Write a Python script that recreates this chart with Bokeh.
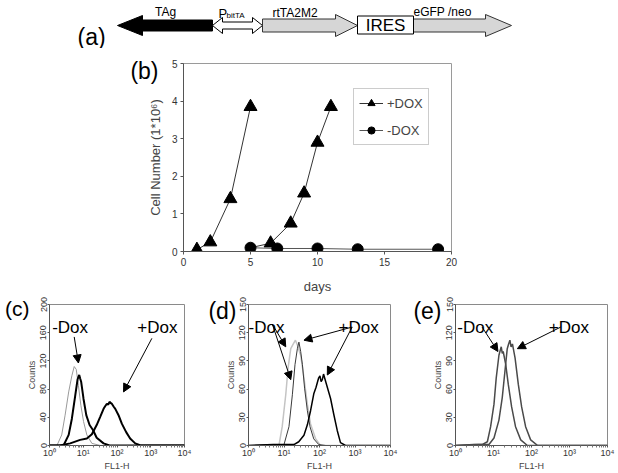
from bokeh.plotting import figure
from bokeh.models import (Range1d, Label, Arrow, NormalHead, FixedTicker, Legend, LegendItem,
                          LinearAxis)
from bokeh.layouts import column, row
from bokeh.embed import file_html
from bokeh.resources import INLINE

FONT = "Liberation Sans"

# ---------------- data ----------------
# (a) construct elements: (x_start, x_end) in diagram units
tag_seg = (212, 117)
pbit_seg = (212, 262)
rtta_seg = (262, 357)
ires_seg = (357, 413)
egfp_seg = (413, 511)

# (b) growth curves
plus_days_1 = [1, 2, 3.5, 5]
plus_cells_1 = [0.05, 0.25, 1.4, 3.85]
plus_days_2 = [5, 6.5, 8, 9, 10, 11]
plus_cells_2 = [0.1, 0.22, 0.75, 1.55, 2.9, 3.85]
minus_days = [5, 7, 10, 13, 19]
minus_cells = [0.1, 0.08, 0.08, 0.06, 0.06]

# (c) histograms
c_gray_x = [1, 1.66, 2.3, 2.9, 3.7, 4.6, 5.4, 6.2, 7.2, 8.5, 10.2, 12.8, 18, 32, 10000]
c_gray_y = [0, 0, 15, 43, 76, 99, 112, 108, 85, 57, 34, 15, 3, 0, 0]
c_minus_x = [1, 2.6, 3.7, 4.6, 5.8, 6.8, 7.3, 7.6, 8.1, 8.7, 10.2, 12.3, 15.4, 19.4, 25, 40, 60, 10000]
c_minus_y = [0, 0, 15, 38, 71, 94, 98, 100, 95, 90, 66, 43, 29, 22, 11, 3, 0, 0]
c_plus_x = [1, 2, 4.1, 8.1, 12.8, 18, 25, 32, 40, 45, 50, 55, 60, 66, 71, 80, 89, 111, 139, 187, 245, 347, 480, 1000, 10000]
c_plus_y = [0, 0, 3, 8, 10, 16, 29, 41, 52, 56, 59, 58, 62, 60, 59, 55, 52, 43, 31, 19, 10, 3, 0.5, 0, 0]

# (d) histograms
d_light_x = [1, 7.2, 8.9, 11.2, 13, 15.5, 18.3, 21, 23.8, 29.5, 36.5, 45.5, 56, 78, 107, 10000]
d_light_y = [0, 0, 20, 54, 82, 103, 108, 112, 107, 96, 72, 44, 23, 7, 0, 0]
d_dark_x = [1, 5, 10, 13.8, 17.2, 20.4, 23.8, 26.3, 29.5, 33, 38, 45.5, 54, 69, 95, 150, 10000]
d_dark_y = [0, 1, 1, 20, 54, 86, 103, 110, 100, 86, 61, 37, 20, 7, 1, 0, 0]
d_plus_x = [1, 5, 19, 26, 36.5, 45.5, 56, 69, 80, 87, 95, 103, 111, 120, 130, 139, 166, 205, 253, 316, 390, 540, 10000]
d_plus_y = [0, 1, 1, 4, 11, 22, 37, 55, 62, 67, 72, 74, 68, 70, 76, 72, 62, 50, 33, 16, 3, 0, 0]

# (e) histograms
e_minus_x = [1, 3, 5, 6.9, 8.4, 10.3, 11.8, 13.9, 15, 16, 17, 18, 21, 24.5, 30, 38, 52, 78, 10000]
e_minus_y = [0, 1, 1, 4, 20, 44, 72, 96, 101, 105, 98, 100, 86, 65, 41, 20, 6, 0, 0]
e_plus_x = [1, 4, 7.6, 10.3, 13.9, 17, 20, 23, 25, 27, 29, 31.5, 37, 45, 55, 70, 95, 145, 10000]
e_plus_y = [0, 1, 1, 8, 27, 51, 79, 103, 108, 112, 105, 108, 93, 65, 41, 20, 6, 0, 0]

log_ticks = [1, 10, 100, 1000, 10000]
log_labels = ["10\u2070", "10\u00b9", "10\u00b2", "10\u00b3", "10\u2074"]


def lbl(p, x, y, text, size, align="left", baseline="alphabetic"):
    p.add_layout(Label(x=x, y=y, text=text, text_font=FONT, text_font_size=size,
                       text_align=align, text_baseline=baseline, text_color="black"))


def panel_letter(p, yval, text, standoff, size="23px"):
    """Panel letter drawn as the single tick label of an extra, invisible left axis."""
    ax = LinearAxis(ticker=FixedTicker(ticks=[yval]),
                    major_label_overrides={yval: text},
                    axis_line_color=None, major_tick_line_color=None,
                    minor_tick_line_color=None, major_tick_out=0, major_tick_in=0,
                    major_label_standoff=standoff, major_label_orientation="horizontal",
                    major_label_text_font=FONT, major_label_text_font_size=size,
                    major_label_text_color="black")
    p.add_layout(ax, "left")


# ---------------- (a) ----------------
pa = figure(width=618, height=48, x_range=Range1d(0, 618), y_range=Range1d(48, 0),
            output_backend="svg", toolbar_location=None, min_border=0,
            x_axis_location=None, y_axis_location=None, frame_align=False)
pa.grid.visible = False
pa.outline_line_color = None


def arrow_poly(x0, x1, yc, sh, hh, hl):
    s = 1 if x1 > x0 else -1
    xb = x1 - s * hl
    xs = [x0, xb, xb, x1, xb, xb, x0]
    ys = [yc - sh / 2, yc - sh / 2, yc - hh / 2, yc, yc + hh / 2, yc + sh / 2, yc + sh / 2]
    return xs, ys


yc = 25
tx, ty = arrow_poly(tag_seg[0], tag_seg[1], yc, 11, 20, 25)
pa.patch(tx, ty, fill_color="black", line_color="black")
a0, a1 = pbit_seg
pxs = [a0, a0 + 10, a0 + 10, a1 - 10, a1 - 10, a1, a1 - 10, a1 - 10, a0 + 10, a0 + 10]
pys = [yc, yc - 8, yc - 3.5, yc - 3.5, yc - 8, yc, yc + 8, yc + 3.5, yc + 3.5, yc + 8]
pa.patch(pxs, pys, fill_color="white", line_color="black", line_width=1)
rx, ry = arrow_poly(rtta_seg[0], rtta_seg[1], yc, 13, 22, 22)
pa.patch(rx, ry, fill_color="#d6d6d6", line_color="#333333")
ex, ey = arrow_poly(egfp_seg[0], egfp_seg[1], yc, 13, 22, 26)
pa.patch(ex, ey, fill_color="#d6d6d6", line_color="#333333")
pa.quad(left=[ires_seg[0]], right=[ires_seg[1]], top=[15.5], bottom=[33.5],
        fill_color="white", line_color="black")
lbl(pa, 77, 36, "(a)", "23px")
lbl(pa, 165, 11, "TAg", "12px", align="center")
lbl(pa, 218, 13, "P", "13px")
lbl(pa, 226, 15, "bitTA", "8px")
lbl(pa, 272, 12, "rtTA2M2", "12px")
lbl(pa, 385, 25, "IRES", "17px", align="center", baseline="middle")
lbl(pa, 413, 11, "eGFP /neo", "12px")

# ---------------- (b) ----------------
pb = figure(width=618, height=248, x_range=Range1d(0, 20), y_range=Range1d(0, 5),
            output_backend="svg", toolbar_location=None, frame_align=False,
            min_border_left=183, min_border_right=167, min_border_top=15, min_border_bottom=44)
pb.grid.visible = False
pb.outline_line_color = "#9a9a9a"
pb.xaxis.ticker = FixedTicker(ticks=[0, 5, 10, 15, 20])
pb.yaxis.ticker = FixedTicker(ticks=[0, 1, 2, 3, 4, 5])
for ax in [pb.xaxis, pb.yaxis]:
    ax.axis_line_color = "#555555"
    ax.major_tick_line_color = "#555555"
    ax.major_tick_out = 3
    ax.major_tick_in = 0
    ax.minor_tick_line_color = None
    ax.major_label_text_font = FONT
    ax.major_label_text_font_size = "10px"
    ax.major_label_text_color = "#333333"
    ax.axis_label_text_font = FONT
    ax.axis_label_text_font_style = "normal"
    ax.axis_label_text_font_size = "13px"
    ax.major_label_standoff = 3
pb.xaxis.axis_label = "days"
pb.yaxis.axis_label = "Cell Number (1*10\u2076)"
pb.xaxis.axis_label_standoff = 10
pb.yaxis.axis_label_standoff = 6

l1 = pb.line(plus_days_1, plus_cells_1, line_color="#333333", line_width=1)
s1 = pb.scatter(plus_days_1, plus_cells_1, marker="triangle", size=13, color="black")
pb.line(plus_days_2, plus_cells_2, line_color="#333333", line_width=1)
pb.scatter(plus_days_2[1:], plus_cells_2[1:], marker="triangle", size=13, color="black")
lm = pb.line(minus_days, minus_cells, line_color="#555555", line_width=1)
sm = pb.scatter(minus_days, minus_cells, marker="circle", size=11, color="black")
leg = Legend(items=[LegendItem(label="+DOX", renderers=[l1, s1]),
                    LegendItem(label="-DOX", renderers=[lm, sm])],
             location=(170, 106), border_line_color="#9a9a9a", label_text_font=FONT,
             label_text_font_size="13px", glyph_width=24, glyph_height=18, spacing=9,
             padding=5, margin=0, label_standoff=4, label_height=18)
pb.add_layout(leg)
panel_letter(pb, 4.8, "(b)", -14)


# ---------------- (c)(d)(e) ----------------
def hist_fig(width, left, right, ymax, yticks):
    p = figure(width=width, height=177, x_axis_type="log", x_range=Range1d(1, 10000),
               y_range=Range1d(0, ymax), output_backend="svg", toolbar_location=None,
               frame_align=False,
               min_border_left=left, min_border_right=right, min_border_top=8,
               min_border_bottom=25)
    p.grid.visible = False
    p.outline_line_color = "#8a8a8a"
    p.xaxis.ticker = FixedTicker(ticks=log_ticks,
                                 minor_ticks=[m * d for d in [1, 10, 100, 1000] for m in range(2, 10)])
    p.xaxis.major_label_overrides = dict(zip(log_ticks, log_labels))
    p.yaxis.ticker = FixedTicker(ticks=yticks)
    for ax in [p.xaxis, p.yaxis]:
        ax.axis_line_color = "#555555"
        ax.major_tick_line_color = "#555555"
        ax.minor_tick_line_color = "#777777"
        ax.major_tick_out = 2
        ax.major_tick_in = 0
        ax.minor_tick_out = 2
        ax.minor_tick_in = 0
        ax.major_label_text_font = FONT
        ax.major_label_text_font_size = "9px"
        ax.major_label_text_color = "#333333"
        ax.axis_label_text_font = FONT
        ax.axis_label_text_font_style = "normal"
        ax.axis_label_text_font_size = "9px"
        ax.major_label_standoff = 1
        ax.axis_label_standoff = 1
    p.xaxis.major_label_standoff = 0
    p.xaxis.axis_label_standoff = 0
    p.yaxis.major_label_orientation = "vertical"
    p.xaxis.axis_label = "FL1-H"
    p.yaxis.axis_label = "Counts"
    return p


def arrow(p, x0, y0, x1, y1):
    p.add_layout(Arrow(end=NormalHead(size=8, fill_color="black", line_color="black"),
                       x_start=x0, y_start=y0, x_end=x1, y_end=y1,
                       line_color="black", line_width=1))


pc = hist_fig(205, 49, 21, 200, [0, 40, 80, 120, 160, 200])
pc.line(c_gray_x, c_gray_y, line_color="#9a9a9a", line_width=1)
pc.line(c_minus_x, c_minus_y, line_color="black", line_width=2)
pc.line(c_plus_x, c_plus_y, line_color="black", line_width=2)
lbl(pc, 1.2, 168, "-Dox", "17px")
lbl(pc, 398, 168, "+Dox", "17px")
arrow(pc, 5.4, 154, 7.2, 117)
arrow(pc, 1080, 152, 156, 76)
panel_letter(pc, 195, "(c)", -6, size="21px")

pd_ = hist_fig(205, 43, 20, 150, [0, 30, 60, 90, 120, 150])
pd_.line(d_light_x, d_light_y, line_color="#c4c4c4", line_width=1.5)
pd_.line(d_dark_x, d_dark_y, line_color="#3a3a3a", line_width=1)
pd_.line(d_plus_x, d_plus_y, line_color="black", line_width=1.5)
lbl(pd_, 1.0, 126, "-Dox", "17px")
lbl(pd_, 345, 126, "+Dox", "17px")
arrow(pd_, 4.7, 129, 11.2, 105)
arrow(pd_, 4.7, 129, 15.5, 70)
arrow(pd_, 832, 126, 36.5, 112)
arrow(pd_, 832, 126, 166, 75)
panel_letter(pd_, 146, "(d)", -14)

pe = hist_fig(208, 45, 11, 150, [0, 30, 60, 90, 120, 150])
pe.line(e_minus_x, e_minus_y, line_color="#4a4a4a", line_width=1.5)
pe.line(e_plus_x, e_plus_y, line_color="#4a4a4a", line_width=1.5)
lbl(pe, 1.12, 126, "-Dox", "17px")
lbl(pe, 284, 126, "+Dox", "17px")
arrow(pe, 5.0, 126, 13.1, 100)
arrow(pe, 590, 126, 42.5, 103)
panel_letter(pe, 146, "(e)", -12)

layout = column(pa, pb, row(pc, pd_, pe))
open("out.html", "w").write(file_html(layout, INLINE))
